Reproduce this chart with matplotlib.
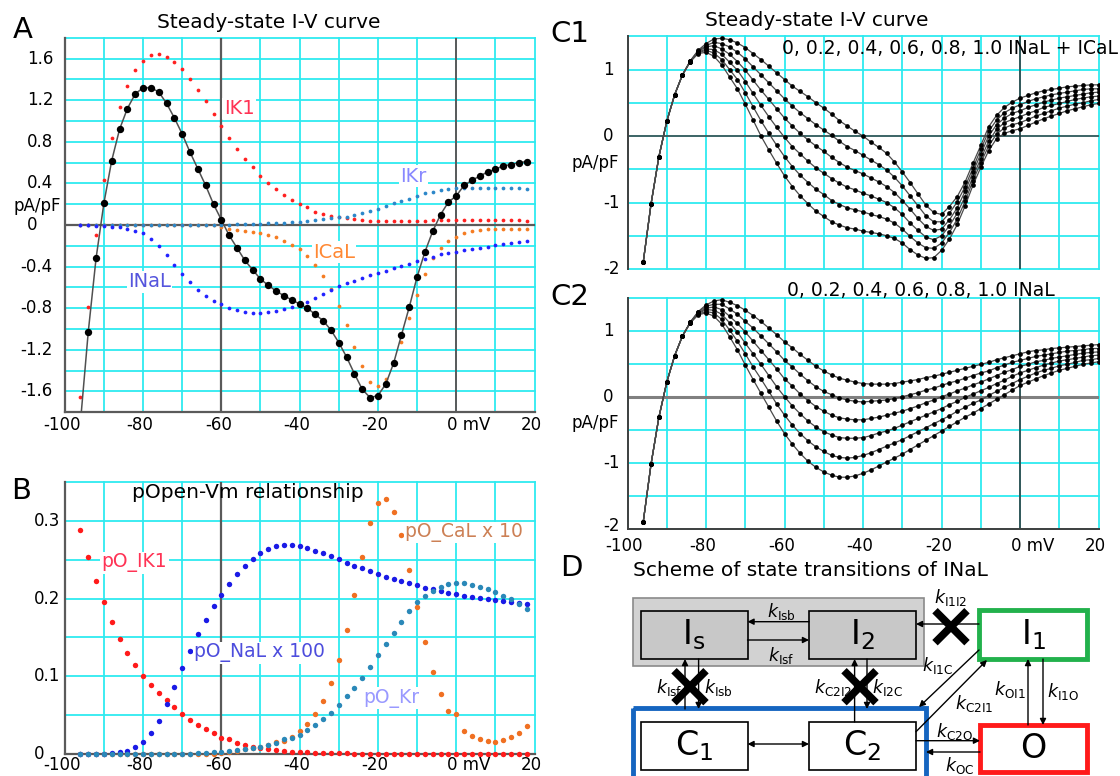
import numpy as np
import matplotlib
matplotlib.use("Agg")
import matplotlib.pyplot as plt
from matplotlib.patches import Rectangle
from matplotlib.transforms import blended_transform_factory as blend, ScaledTranslation

plt.rcParams['font.family'] = ['DejaVu Sans']
plt.rcParams['mathtext.fontset'] = 'dejavusans'

# ---------------- data ----------------
vm_ab = list(range(-96, 20, 2))   # mV, panels A and B
vm_c = list(range(-96, 22, 2))    # mV, panels C1 and C2

# Panel A: steady-state currents (pA/pF)
i_total = [-1.90, -1.03, -0.32, 0.21, 0.62, 0.92, 1.12, 1.26, 1.32, 1.32,
           1.28, 1.17, 1.03, 0.875, 0.70, 0.54, 0.38, 0.20, 0.05, -0.10,
           -0.22, -0.34, -0.43, -0.52, -0.58, -0.635, -0.68, -0.72, -0.76, -0.80,
           -0.86, -0.92, -1.01, -1.13, -1.27, -1.43, -1.58, -1.66, -1.64, -1.53,
           -1.33, -1.06, -0.79, -0.50, -0.26, -0.06, 0.10, 0.22, 0.28, 0.38,
           0.43, 0.47, 0.51, 0.535, 0.57, 0.58, 0.60, 0.61]
i_k1 = [-1.65, -0.79, -0.10, 0.43, 0.84, 1.13, 1.34, 1.49, 1.58, 1.63,
        1.64, 1.62, 1.57, 1.50, 1.40, 1.30, 1.19, 1.07, 0.955, 0.84,
        0.73, 0.63, 0.555, 0.475, 0.405, 0.345, 0.29, 0.24, 0.205, 0.17,
        0.125, 0.105, 0.09, 0.08, 0.067, 0.058, 0.045, 0.042, 0.04, 0.04,
        0.04, 0.04, 0.04, 0.04, 0.043, 0.045, 0.048, 0.05, 0.052, 0.052,
        0.05, 0.05, 0.048, 0.047, 0.046, 0.045, 0.044, 0.043]
i_cal = [0.0, 0.0, 0.0, 0.0, 0.0, 0.0, 0.0, 0.0, 0.0, 0.0,
         0.0, 0.0, 0.0, 0.0, 0.0, 0.0, 0.0, 0.0, -0.02, -0.04,
         -0.05, -0.06, -0.07, -0.08, -0.10, -0.12, -0.15, -0.19, -0.23, -0.30,
         -0.385, -0.49, -0.615, -0.78, -0.96, -1.17, -1.36, -1.51, -1.545, -1.48,
         -1.32, -1.125, -0.89, -0.67, -0.47, -0.32, -0.22, -0.155, -0.12, -0.08,
         -0.06, -0.05, -0.04, -0.04, -0.035, -0.035, -0.035, -0.04]
i_nal = [0.0, 0.0, -0.005, -0.01, -0.015, -0.02, -0.035, -0.055, -0.08, -0.135,
         -0.20, -0.29, -0.38, -0.47, -0.55, -0.625, -0.68, -0.73, -0.76, -0.795,
         -0.82, -0.835, -0.845, -0.848, -0.84, -0.825, -0.81, -0.79, -0.77, -0.74,
         -0.70, -0.66, -0.625, -0.59, -0.56, -0.535, -0.51, -0.485, -0.465, -0.44,
         -0.415, -0.395, -0.375, -0.35, -0.33, -0.305, -0.28, -0.265, -0.255, -0.245,
         -0.235, -0.225, -0.21, -0.195, -0.185, -0.175, -0.165, -0.15]
i_kr = [0.0, 0.0, 0.0, 0.0, 0.0, 0.0, 0.0, 0.0, 0.0, 0.0,
        0.0, 0.0, 0.0, 0.0, 0.0, 0.0, 0.0, 0.0, 0.0, 0.003,
        0.005, 0.007, 0.01, 0.012, 0.015, 0.018, 0.022, 0.026, 0.03, 0.035,
        0.045, 0.055, 0.065, 0.074, 0.08, 0.097, 0.115, 0.135, 0.157, 0.18,
        0.21, 0.23, 0.25, 0.28, 0.305, 0.32, 0.335, 0.345, 0.353, 0.36,
        0.36, 0.36, 0.36, 0.358, 0.356, 0.355, 0.353, 0.35]

# Panel B: open probabilities
po_k1 = [0.288, 0.254, 0.222, 0.195, 0.170, 0.148, 0.130, 0.115, 0.101, 0.089,
         0.078, 0.069, 0.060, 0.051, 0.044, 0.037, 0.032, 0.027, 0.021, 0.019,
         0.0145, 0.0116, 0.0094, 0.0073, 0.006, 0.005, 0.004, 0.003, 0.0025, 0.002,
         0.0017, 0.0013, 0.001, 0.0008, 0.0007, 0.0005, 0.0005, 0.0005, 0.0005, 0.0005,
         0.0005, 0.0005, 0.0005, 0.0005, 0.0005, 0.0005, 0.0005, 0.0005, 0.0005, 0.0005,
         0.0005, 0.0005, 0.0005, 0.0005, 0.0005, 0.0005, 0.0005, 0.0005]
po_nal100 = [0.0, 0.0, 0.0, 0.0005, 0.0013, 0.0026, 0.0043, 0.0094, 0.016, 0.0266,
             0.043, 0.064, 0.0866, 0.111, 0.133, 0.154, 0.173, 0.190, 0.2046, 0.219,
             0.231, 0.242, 0.2506, 0.2587, 0.2640, 0.2672, 0.2686, 0.269, 0.2677, 0.265,
             0.2617, 0.2587, 0.2548, 0.251, 0.246, 0.242, 0.239, 0.2355, 0.2317, 0.228,
             0.2248, 0.2226, 0.2197, 0.217, 0.2136, 0.212, 0.2093, 0.207, 0.2055, 0.2037,
             0.2024, 0.2003, 0.199, 0.198, 0.1965, 0.195, 0.194, 0.193]
po_kr = [0.0, 0.0, 0.0, 0.0, 0.0, 0.0, 0.0, 0.0, 0.0, 0.0,
         0.0, 0.0, 0.0, 0.0, 0.0005, 0.001, 0.0015, 0.002, 0.003, 0.004,
         0.005, 0.006, 0.008, 0.0094, 0.0116, 0.0137, 0.019, 0.021, 0.0245, 0.031,
         0.037, 0.0446, 0.053, 0.063, 0.074, 0.0845, 0.098, 0.112, 0.127, 0.142,
         0.156, 0.170, 0.1836, 0.195, 0.203, 0.21, 0.215, 0.219, 0.2206, 0.2206,
         0.218, 0.215, 0.212, 0.208, 0.203, 0.199, 0.193, 0.186]
po_cal10 = [0.0, 0.0, 0.0, 0.0, 0.0, 0.0, 0.0, 0.0, 0.0, 0.0,
            0.0, 0.0, 0.0, 0.0, 0.0, 0.0, 0.0, 0.0, 0.001, 0.002,
            0.004, 0.006, 0.008, 0.0094, 0.011, 0.016, 0.017, 0.022, 0.029, 0.038,
            0.051, 0.068, 0.091, 0.121, 0.159, 0.204, 0.254, 0.297, 0.323, 0.328,
            0.312, 0.282, 0.237, 0.189, 0.144, 0.105, 0.077, 0.055, 0.051, 0.030,
            0.023, 0.019, 0.017, 0.015, 0.018, 0.022, 0.027, 0.036]

# Panel C1: I-V with 0, 0.2, ..., 1.0 x (INaL + ICaL)
c1_f00 = [-1.90, -1.02, -0.31, 0.22, 0.62, 0.92, 1.13, 1.29, 1.39, 1.46,
          1.47, 1.45, 1.40, 1.33, 1.24, 1.15, 1.05, 0.95, 0.85, 0.75,
          0.67, 0.59, 0.50, 0.42, 0.33, 0.23, 0.15, 0.07, 0.00, -0.09,
          -0.17, -0.26, -0.39, -0.54, -0.70, -0.87, -1.04, -1.15, -1.18, -1.06,
          -0.91, -0.69, -0.41, -0.14, 0.14, 0.31, 0.43, 0.51, 0.57, 0.61,
          0.65, 0.68, 0.70, 0.72, 0.74, 0.75, 0.76, 0.77, 0.77]
c1_f02 = [-1.90, -1.02, -0.31, 0.22, 0.62, 0.92, 1.13, 1.28, 1.36, 1.41,
          1.39, 1.34, 1.26, 1.16, 1.04, 0.92, 0.80, 0.68, 0.56, 0.45,
          0.35, 0.26, 0.17, 0.09, 0.01, -0.08, -0.16, -0.22, -0.29, -0.36,
          -0.43, -0.51, -0.62, -0.75, -0.90, -1.05, -1.20, -1.29, -1.29, -1.16,
          -0.99, -0.76, -0.48, -0.20, 0.07, 0.24, 0.35, 0.42, 0.47, 0.52,
          0.56, 0.59, 0.62, 0.64, 0.66, 0.68, 0.70, 0.71, 0.71]
c1_f04 = [-1.90, -1.02, -0.31, 0.22, 0.62, 0.92, 1.13, 1.27, 1.34, 1.36,
          1.31, 1.23, 1.12, 0.99, 0.84, 0.69, 0.55, 0.41, 0.27, 0.15,
          0.04, -0.06, -0.15, -0.23, -0.32, -0.40, -0.47, -0.52, -0.57, -0.63,
          -0.69, -0.76, -0.85, -0.97, -1.10, -1.24, -1.36, -1.42, -1.40, -1.26,
          -1.08, -0.83, -0.54, -0.27, 0.00, 0.17, 0.27, 0.34, 0.38, 0.43,
          0.47, 0.51, 0.54, 0.57, 0.59, 0.61, 0.63, 0.65, 0.66]
c1_f06 = [-1.90, -1.02, -0.31, 0.22, 0.62, 0.92, 1.12, 1.26, 1.31, 1.30,
          1.23, 1.11, 0.99, 0.82, 0.64, 0.46, 0.29, 0.13, -0.02, -0.16,
          -0.27, -0.38, -0.48, -0.56, -0.64, -0.71, -0.77, -0.81, -0.86, -0.90,
          -0.95, -1.00, -1.08, -1.18, -1.31, -1.42, -1.52, -1.56, -1.50, -1.35,
          -1.16, -0.91, -0.61, -0.34, -0.08, 0.10, 0.20, 0.25, 0.29, 0.34,
          0.38, 0.43, 0.46, 0.49, 0.52, 0.55, 0.57, 0.59, 0.60]
c1_f08 = [-1.90, -1.02, -0.31, 0.22, 0.62, 0.92, 1.12, 1.25, 1.29, 1.25,
          1.15, 1.00, 0.85, 0.65, 0.44, 0.23, 0.04, -0.14, -0.31, -0.46,
          -0.59, -0.70, -0.80, -0.88, -0.97, -1.03, -1.08, -1.11, -1.14, -1.18,
          -1.21, -1.25, -1.31, -1.40, -1.51, -1.61, -1.68, -1.69, -1.61, -1.45,
          -1.25, -0.98, -0.67, -0.40, -0.15, 0.03, 0.12, 0.17, 0.20, 0.25,
          0.30, 0.34, 0.38, 0.42, 0.45, 0.48, 0.50, 0.53, 0.55]
c1_f10 = [-1.90, -1.02, -0.31, 0.22, 0.62, 0.92, 1.12, 1.24, 1.26, 1.20,
          1.07, 0.89, 0.71, 0.48, 0.24, 0.00, -0.21, -0.41, -0.60, -0.76,
          -0.90, -1.02, -1.13, -1.21, -1.29, -1.34, -1.38, -1.40, -1.43, -1.45,
          -1.47, -1.50, -1.54, -1.61, -1.71, -1.79, -1.84, -1.83, -1.72, -1.55,
          -1.33, -1.05, -0.74, -0.47, -0.22, -0.04, 0.04, 0.08, 0.11, 0.16,
          0.21, 0.26, 0.30, 0.34, 0.38, 0.41, 0.44, 0.47, 0.49]

# Panel C2: I-V with 0, 0.2, ..., 1.0 x INaL
c2_f00 = [-1.90, -1.02, -0.31, 0.22, 0.62, 0.92, 1.13, 1.29, 1.39, 1.45,
          1.47, 1.43, 1.38, 1.31, 1.23, 1.14, 1.04, 0.94, 0.83, 0.74,
          0.64, 0.55, 0.46, 0.39, 0.33, 0.28, 0.25, 0.22, 0.20, 0.19,
          0.19, 0.19, 0.20, 0.22, 0.24, 0.26, 0.29, 0.31, 0.34, 0.37,
          0.40, 0.43, 0.46, 0.49, 0.52, 0.56, 0.59, 0.62, 0.65, 0.68,
          0.70, 0.71, 0.73, 0.74, 0.75, 0.76, 0.77, 0.78, 0.79]
c2_f02 = [-1.90, -1.02, -0.31, 0.22, 0.62, 0.92, 1.13, 1.28, 1.37, 1.40,
          1.40, 1.33, 1.25, 1.14, 1.04, 0.92, 0.80, 0.68, 0.55, 0.45,
          0.34, 0.24, 0.15, 0.08, 0.03, -0.02, -0.05, -0.07, -0.08, -0.07,
          -0.06, -0.05, -0.03, 0.00, 0.03, 0.06, 0.10, 0.13, 0.17, 0.21,
          0.24, 0.28, 0.32, 0.36, 0.39, 0.44, 0.48, 0.52, 0.55, 0.58,
          0.61, 0.63, 0.65, 0.67, 0.69, 0.70, 0.71, 0.73, 0.73]
c2_f04 = [-1.90, -1.02, -0.31, 0.22, 0.62, 0.92, 1.13, 1.27, 1.34, 1.36,
          1.32, 1.22, 1.11, 0.98, 0.84, 0.70, 0.56, 0.42, 0.27, 0.16,
          0.04, -0.06, -0.15, -0.22, -0.28, -0.32, -0.34, -0.35, -0.35, -0.33,
          -0.31, -0.28, -0.25, -0.22, -0.18, -0.14, -0.09, -0.05, 0.00, 0.04,
          0.09, 0.13, 0.18, 0.22, 0.27, 0.32, 0.37, 0.41, 0.46, 0.49,
          0.53, 0.55, 0.58, 0.60, 0.62, 0.64, 0.66, 0.67, 0.68]
c2_f06 = [-1.90, -1.02, -0.31, 0.22, 0.62, 0.92, 1.12, 1.26, 1.32, 1.31,
          1.25, 1.12, 0.98, 0.81, 0.65, 0.49, 0.32, 0.15, 0.00, -0.14,
          -0.26, -0.37, -0.46, -0.53, -0.58, -0.62, -0.63, -0.63, -0.62, -0.59,
          -0.55, -0.52, -0.48, -0.43, -0.38, -0.33, -0.28, -0.23, -0.18, -0.12,
          -0.07, -0.01, 0.04, 0.09, 0.14, 0.20, 0.25, 0.31, 0.36, 0.40,
          0.44, 0.48, 0.51, 0.54, 0.56, 0.58, 0.60, 0.62, 0.63]
c2_f08 = [-1.90, -1.02, -0.31, 0.22, 0.62, 0.92, 1.12, 1.25, 1.29, 1.27,
          1.17, 1.01, 0.84, 0.65, 0.45, 0.27, 0.08, -0.11, -0.28, -0.43,
          -0.56, -0.67, -0.76, -0.83, -0.89, -0.92, -0.93, -0.92, -0.89, -0.85,
          -0.80, -0.75, -0.70, -0.65, -0.59, -0.53, -0.47, -0.41, -0.35, -0.29,
          -0.22, -0.16, -0.10, -0.05, 0.02, 0.08, 0.14, 0.20, 0.26, 0.31,
          0.36, 0.40, 0.43, 0.47, 0.49, 0.52, 0.55, 0.56, 0.58]
c2_f10 = [-1.90, -1.02, -0.31, 0.22, 0.62, 0.92, 1.12, 1.24, 1.27, 1.22,
          1.10, 0.91, 0.71, 0.48, 0.26, 0.05, -0.16, -0.37, -0.56, -0.72,
          -0.86, -0.98, -1.07, -1.14, -1.19, -1.22, -1.22, -1.20, -1.16, -1.11,
          -1.05, -0.99, -0.93, -0.87, -0.80, -0.73, -0.66, -0.59, -0.52, -0.45,
          -0.38, -0.31, -0.25, -0.18, -0.11, -0.04, 0.03, 0.10, 0.17, 0.22,
          0.27, 0.32, 0.36, 0.40, 0.43, 0.46, 0.49, 0.51, 0.53]

c1_curves = [c1_f00, c1_f02, c1_f04, c1_f06, c1_f08, c1_f10]
c2_curves = [c2_f00, c2_f02, c2_f04, c2_f06, c2_f08, c2_f10]

for s in [i_total, i_k1, i_cal, i_nal, i_kr, po_k1, po_nal100, po_kr, po_cal10]:
    assert len(s) == len(vm_ab), len(s)
for s in c1_curves + c2_curves:
    assert len(s) == len(vm_c), len(s)

x_ticks = [-100, -80, -60, -40, -20, 0, 20]
x_ticklabels = ["-100", "-80", "-60", "-40", "-20", "0 mV", "20"]

# ---------------- layout ----------------
W, H = 1120, 776
fig = plt.figure(figsize=(W / 100, H / 100), dpi=100)
GRID = '#2eeaf0'
DARK = '#5a5a5a'

ov = fig.add_axes([0, 0, 1, 1], zorder=10)
ov.set_xlim(0, W)
ov.set_ylim(H, 0)
ov.axis('off')


def add_ax(l, r, t, b):
    ax = fig.add_axes([l / W, 1 - b / H, (r - l) / W, (b - t) / H])
    ax.set_facecolor('white')
    ax.tick_params(length=0, labelleft=False, labelbottom=False)
    for sp in ax.spines.values():
        sp.set_visible(False)
    return ax


def grid(ax, xs, ys):
    for x in xs:
        ax.axvline(x, color=GRID, lw=1.3, zorder=0, clip_on=False)
    for y in ys:
        ax.axhline(y, color=GRID, lw=1.3, zorder=0, clip_on=False)


def ylabels(ax, ticks, labels, xpos, xneg, fs=12, dy=None):
    tr = blend(ov.transData, ax.transData)
    for t, lab in zip(ticks, labels):
        x = xneg if lab.startswith('-') else xpos
        trt = tr
        if dy is not None and t in dy:
            trt = tr + ScaledTranslation(0, dy[t] / 100, fig.dpi_scale_trans)
        ax.text(x, t, lab, transform=trt, ha='left', va='center', fontsize=fs, clip_on=False)


def xlabels(ax, ypx, fs=12):
    for t, lab in zip(x_ticks, x_ticklabels):
        if lab.endswith('mV'):
            tr = blend(ax.transData, ov.transData) + ScaledTranslation(-9 / 100, 0, fig.dpi_scale_trans)
            ax.text(t, ypx, lab, transform=tr, ha='left', va='center', fontsize=fs, clip_on=False)
        else:
            tr = blend(ax.transData, ov.transData) + ScaledTranslation(-3 / 100, 0, fig.dpi_scale_trans)
            ax.text(t, ypx, lab, transform=tr, ha='center', va='center', fontsize=fs, clip_on=False)


lab_box = dict(facecolor='white', edgecolor='none', pad=1.0)

# ---------------- Panel A ----------------
axA = add_ax(64.75, 534.5, 37.8, 412.2)
axA.set_xlim(-100, 20)
axA.set_ylim(-1.8, 1.8)
grid(axA, range(-100, 21, 10), np.round(np.arange(-1.8, 1.81, 0.2), 2))
axA.axhline(0, color=DARK, lw=1.6, zorder=1)
axA.axvline(-60, color=DARK, lw=1.6, zorder=1)
axA.axvline(0, color=DARK, lw=1.4, zorder=1)
for s in ['left', 'bottom']:
    axA.spines[s].set_visible(True)
    axA.spines[s].set_color(DARK)
    axA.spines[s].set_linewidth(1.6)

axA.plot(vm_ab, i_k1, 'o', color='#ff2020', ms=2.7, mew=0, zorder=3)
axA.plot(vm_ab, i_cal, 'o', color='#f57c22', ms=2.7, mew=0, zorder=3)
axA.plot(vm_ab, i_kr, 'o', color='#2c87c9', ms=2.7, mew=0, zorder=3)
axA.plot(vm_ab, i_nal, 'o', color='#2222ff', ms=2.7, mew=0, zorder=3)
axA.plot(vm_ab, i_total, '-', color='#505050', lw=1.1, zorder=4)
axA.plot(vm_ab, i_total, 'o', color='black', ms=5.3, mew=0, zorder=5)

axA.text(-55.5, 1.12, 'IK1', color='#ff3355', fontsize=14, ha='center', va='center', bbox=lab_box, zorder=6)
axA.text(-11, 0.47, 'IKr', color='#8888ff', fontsize=14, ha='center', va='center', bbox=lab_box, zorder=6)
axA.text(-31.2, -0.26, 'ICaL', color='#ff8833', fontsize=14, ha='center', va='center', bbox=lab_box, zorder=6)
axA.text(-78.3, -0.545, 'INaL', color='#5555dd', fontsize=14, ha='center', va='center', bbox=lab_box, zorder=6)

ylabels(axA, [1.6, 1.2, 0.8, 0.4, 0, -0.4, -0.8, -1.2, -1.6],
        ['1.6', '1.2', '0.8', '0.4', '0', '-0.4', '-0.8', '-1.2', '-1.6'], 27, 20)
xlabels(axA, 425)

# ---------------- Panel B ----------------
axB = add_ax(64.75, 534.5, 482, 754)
axB.set_xlim(-100, 20)
axB.set_ylim(0, 0.35)
grid(axB, range(-100, 21, 10), np.round(np.arange(0, 0.351, 0.05), 3))
axB.axvline(-60, color=DARK, lw=1.6, zorder=1)
for s in ['left', 'bottom']:
    axB.spines[s].set_visible(True)
    axB.spines[s].set_color(DARK)
    axB.spines[s].set_linewidth(1.6)

axB.plot(vm_ab, po_k1, 'o', color='#ff1a1a', ms=3.9, mew=0, zorder=3, clip_on=False)
axB.plot(vm_ab, po_cal10, 'o', color='#f07022', ms=3.9, mew=0, zorder=3, clip_on=False)
axB.plot(vm_ab, po_nal100, 'o', color='#1a1ae6', ms=3.9, mew=0, zorder=4, clip_on=False)
axB.plot(vm_ab, po_kr, 'o', color='#2a88b8', ms=3.9, mew=0, zorder=4, clip_on=False)

axB.text(-82.2, 0.246, 'pO_IK1', color='#ff3355', fontsize=13.5, ha='center', va='center', bbox=lab_box, zorder=6)
axB.text(-50.3, 0.13, 'pO_NaL x 100', color='#4d4ddd', fontsize=13.5, ha='center', va='center', bbox=lab_box, zorder=6)
axB.text(-16.6, 0.072, 'pO_Kr', color='#9999ff', fontsize=13.5, ha='center', va='center', bbox=lab_box, zorder=6)
axB.text(2.0, 0.285, 'pO_CaL x 10', color='#cc8055', fontsize=13.5, ha='center', va='center', bbox=lab_box, zorder=6)

ylabels(axB, [0.3, 0.2, 0.1, 0], ['0.3', '0.2', '0.1', '0'], 34, 34)
xlabels(axB, 765)

# ---------------- Panels C1 / C2 ----------------
def panel_c(t, b, curves, bottom_spine, zero_style, dy=None):
    ax = add_ax(627.5, 1098.6, t, b)
    ax.set_xlim(-100, 20)
    ax.set_ylim(-2, 1.5)
    grid(ax, range(-100, 21, 10), np.round(np.arange(-2, 1.51, 0.5), 2))
    ax.axhline(0, zorder=1, **zero_style)
    ax.axvline(0, color='#303030', lw=1.1, zorder=1)
    ax.spines['left'].set_visible(True)
    ax.spines['left'].set_color('#404040')
    ax.spines['left'].set_linewidth(1.4)
    if bottom_spine:
        ax.spines['bottom'].set_visible(True)
        ax.spines['bottom'].set_color('#404040')
        ax.spines['bottom'].set_linewidth(1.4)
    for cur in curves:
        ax.plot(vm_c, cur, '-', color='#4a4a4a', lw=0.9, zorder=3)
        ax.plot(vm_c, cur, 'o', color='black', ms=3.4, mew=0, zorder=4)
    ylabels(ax, [1, 0, -1, -2], ['1', '0', '-1', '-2'], 603, 603, dy=dy)
    return ax


axC1 = panel_c(36.3, 269, c1_curves, False, dict(color='#404040', lw=1.1))
axC2 = panel_c(297.7, 528.7, c2_curves, True, dict(color='#808080', lw=2.2), dy={-2: 3})
xlabels(axC2, 546)

# ---------------- titles, letters and unit labels ----------------
ov.text(268.5, 23, 'Steady-state I-V curve', fontsize=14.5, ha='center', va='center')
ov.text(248, 492, 'pOpen-Vm relationship', fontsize=14.5, ha='center', va='center')
ov.text(817, 21, 'Steady-state I-V curve', fontsize=14.5, ha='center', va='center')
ov.text(782, 48, '0, 0.2, 0.4, 0.6, 0.8, 1.0 INaL + ICaL', fontsize=13.5, ha='left', va='center')
ov.text(787, 290, '0, 0.2, 0.4, 0.6, 0.8, 1.0 INaL', fontsize=13.5, ha='left', va='center')
ov.text(37, 206, 'pA/pF', fontsize=12, ha='center', va='center')
ov.text(595, 163, 'pA/pF', fontsize=12, ha='center', va='center')
ov.text(595, 423, 'pA/pF', fontsize=12, ha='center', va='center')
ov.text(23, 30, 'A', fontsize=21, ha='center', va='center')
ov.text(21, 491, 'B', fontsize=21, ha='center', va='center')
ov.text(570, 34, 'C1', fontsize=21, ha='center', va='center')
ov.text(570, 297, 'C2', fontsize=21, ha='center', va='center')
ov.text(571, 568, 'D', fontsize=21, ha='center', va='center')

# ---------------- Panel D: state scheme ----------------
ov.text(633, 571, 'Scheme of state transitions of INaL', fontsize=14.5, ha='left', va='center')


def box(x0, y0, x1, y1, fc, ec, lw):
    ov.add_patch(Rectangle((x0, y0), x1 - x0, y1 - y0, facecolor=fc, edgecolor=ec, lw=lw, zorder=2))


def arrow(x0, y0, x1, y1, both=False):
    ov.annotate('', xy=(x1, y1), xytext=(x0, y0),
                arrowprops=dict(arrowstyle='<|-|>' if both else '-|>', color='black', lw=1.0,
                                mutation_scale=9, shrinkA=0, shrinkB=0), zorder=3)


def cross(cx, cy, r=16):
    ov.plot([cx - r, cx + r], [cy - r, cy + r], color='black', lw=5.5, solid_capstyle='butt', zorder=5)
    ov.plot([cx - r, cx + r], [cy + r, cy - r], color='black', lw=5.5, solid_capstyle='butt', zorder=5)


box(633, 598, 923.6, 666, '#d2d2d2', '#8a8a8a', 1.2)
box(641.4, 611, 747.5, 659, '#c8c8c8', 'black', 1.2)
box(809, 611, 916, 659, '#c8c8c8', 'black', 1.2)
box(979, 610, 1087, 659, 'white', '#22b14c', 3.5)
box(633, 708, 926, 800, 'none', '#1565c0', 3.5)
box(641, 722, 747.5, 770, 'white', 'black', 1.2)
box(809, 722, 916, 770, 'white', 'black', 1.2)
box(980, 725, 1087, 772, 'white', '#ff1a1a', 3.5)

for (x, y, s) in [(694, 635, r'$\mathregular{I_s}$'), (862, 635, r'$\mathregular{I_2}$'),
                  (1033, 635, r'$\mathregular{I_1}$'), (694, 746, r'$\mathregular{C_1}$'),
                  (862, 746, r'$\mathregular{C_2}$'), (1033, 748, r'$\mathregular{O}$')]:
    ov.text(x, y, s, fontsize=24, ha='center', va='center', zorder=6)

arrow(809, 621.7, 747.5, 621.7)
arrow(747.5, 640, 809, 640)
arrow(979, 624, 916, 624)
cross(951, 626.7)
arrow(685, 709, 685, 659)
arrow(698.6, 659, 698.6, 709)
cross(690, 686.7)
arrow(854.6, 722, 854.6, 659)
arrow(867, 659, 867, 709)
cross(860, 686.7)
arrow(979, 650, 919, 707)
arrow(916, 731.7, 987, 660)
arrow(1028, 725, 1028, 659)
arrow(1043, 659, 1043, 725)
arrow(916, 740.7, 980, 740.7)
arrow(980, 752, 926, 752)
arrow(747.5, 744, 809, 744, both=True)

kfs = 12.5
for (x, y, s, ha) in [(951, 598, r'$k_{\mathrm{I1I2}}$', 'center'),
                      (782, 611, r'$k_{\mathrm{Isb}}$', 'center'),
                      (781, 656, r'$k_{\mathrm{Isf}}$', 'center'),
                      (683, 688, r'$k_{\mathrm{Isf}}$', 'right'),
                      (704, 688, r'$k_{\mathrm{Isb}}$', 'left'),
                      (852, 688, r'$k_{\mathrm{C2I2}}$', 'right'),
                      (872, 688, r'$k_{\mathrm{I2C}}$', 'left'),
                      (938, 665, r'$k_{\mathrm{I1C}}$', 'center'),
                      (974, 704, r'$k_{\mathrm{C2I1}}$', 'center'),
                      (1026, 689, r'$k_{\mathrm{OI1}}$', 'right'),
                      (1047, 691, r'$k_{\mathrm{I1O}}$', 'left'),
                      (955, 731, r'$k_{\mathrm{C2O}}$', 'center'),
                      (960, 766, r'$k_{\mathrm{OC}}$', 'center')]:
    ov.text(x, y, s, fontsize=kfs, ha=ha, va='center', zorder=6)

fig.savefig('out.png', dpi=100)
